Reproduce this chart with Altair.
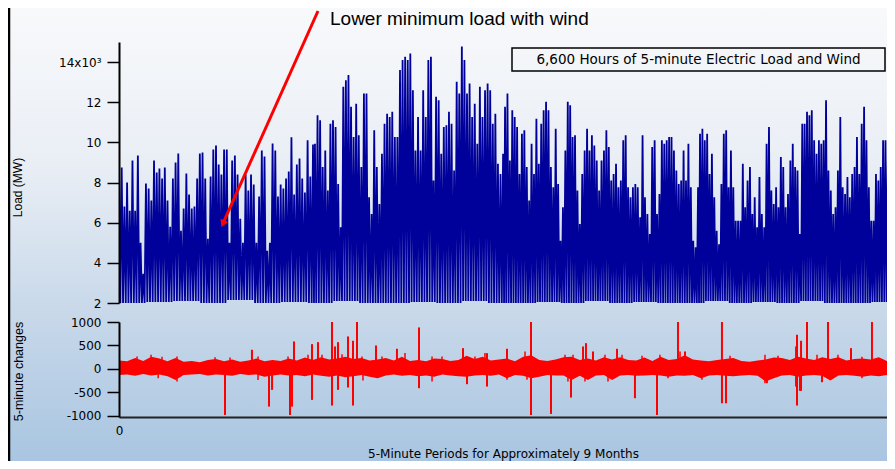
import altair as alt
import pandas as pd

# ---------------- data ----------------
TOTAL_PERIODS = 79200  # 6,600 hours x 12 five-minute periods
VISIBLE_PERIODS = 78384  # part of the record that fits in the drawing width

# daily peak load (thousand MW), four consecutive blocks of the record
PEAKS_1 = [8.75, 8.75, 6.8, 8.0, 6.6, 9.1, 6.6, 9.35, 5.0, 3.45, 7.95, 7.7, 7.1, 9.1, 8.5, 8.7, 8.2, 8.75, 7.1, 5.8,
           8.2, 9.0, 9.45, 5.6, 6.7, 8.45, 7.4, 6.7, 6.8, 8.2, 9.45, 9.5, 8.2, 5.2, 8.3, 9.65, 9.85, 8.9, 8.4, 9.65,
           9.65, 5.0, 9.1, 9.35, 8.4, 6.2, 5.0, 8.4, 7.6, 8.4, 7.9, 5.0, 7.3, 9.6, 9.3, 4.6, 5.0, 9.95, 9.6, 7.3,
           7.9, 7.7, 8.2, 8.55, 10.25, 7.4, 8.9, 9.2, 8.2, 7.5, 10.1, 8.3, 9.9]
PEAKS_2 = [9.93, 11.35, 11.1, 8.77, 9.6, 7.6, 10.93, 11.1, 10.77, 7.93, 5.77, 12.77, 13.1, 13.35, 11.77, 10.27,
           11.93, 10.35, 8.77, 12.43, 12.43, 7.27, 6.43, 10.6, 8.77, 6.93, 9.43, 10.93, 11.43, 11.27, 11.52, 10.27,
           10.27, 13.6, 14.1, 14.27, 14.1, 14.43, 12.6, 9.6, 11.27, 9.6, 12.6, 11.27, 14.1, 14.27, 8.1, 12.27, 12.1,
           9.43, 10.77, 10.85, 11.52, 10.93, 8.6, 13.02, 12.43, 14.77, 14.1, 12.43, 12.93, 11.27, 11.93, 9.93,
           12.77, 11.27, 12.6, 12.93, 12.6, 10.93, 11.43, 8.93, 8.43, 9.43]
PEAKS_3 = [11.77, 12.43, 9.1, 11.6, 11.27, 10.77, 8.43, 10.43, 10.6, 8.77, 7.1, 9.93, 8.43, 11.18, 8.93, 10.93,
           11.6, 12.02, 11.6, 8.77, 7.77, 10.68, 7.93, 5.1, 6.77, 9.6, 12.02, 11.85, 10.27, 10.35, 7.6, 5.93, 8.43,
           9.6, 10.68, 9.6, 10.35, 9.85, 9.1, 7.6, 9.1, 9.6, 10.6, 9.77, 8.1, 8.43, 8.93, 7.77, 8.1, 10.1, 10.35,
           7.77, 7.27, 7.77, 7.93, 7.77, 6.27, 10.35, 7.27, 6.43, 5.43, 9.77, 10.1, 6.43, 7.43, 10.1, 9.93, 10.1,
           10.27, 10.27, 9.6, 8.6, 7.93, 8.1, 9.6, 8.1, 9.93, 7.77, 5.1, 4.77, 7.77]
PEAKS_4 = [10.43, 10.68, 10.1, 10.43, 8.43, 9.43, 7.27, 5.6, 4.93, 7.93, 10.43, 10.6, 7.77, 9.6, 7.77, 6.1, 6.1,
           6.1, 8.93, 6.77, 8.1, 8.77, 6.43, 7.27, 5.77, 8.27, 6.43, 5.77, 9.93, 10.77, 7.6, 6.93, 7.77, 6.77, 9.27,
           8.77, 6.77, 7.43, 9.1, 9.93, 8.77, 8.6, 5.43, 10.93, 10.93, 11.52, 11.35, 11.6, 10.1, 9.43, 10.1, 9.93,
           10.1, 12.1, 8.6, 7.6, 6.43, 6.77, 8.6, 11.27, 7.77, 7.43, 8.27, 7.27, 8.43, 8.77, 10.27, 8.43, 10.93,
           11.77, 10.1, 7.77, 6.1, 6.1, 8.43, 8.1, 8.77, 10.1, 10.1, 9.1, 8.93, 8.43, 8.1]
BLOCK_START = [0, 20000, 39400, 59300]
BLOCK_END = [19800, 39200, 59100, 79200]
# night-time minimum load (thousand MW), one value per ten days
TROUGHS = [2.0, 2.05, 2.1, 2.0, 2.15, 2.0, 2.05, 2.0, 2.1, 2.0, 2.0, 2.05, 2.0, 2.1, 2.0, 2.0,
           2.05, 2.0, 2.1, 2.0, 2.05, 2.0, 2.0, 2.1, 2.0, 2.05, 2.0, 2.1, 2.0, 2.0, 2.05, 2.0]

# 5-minute changes (MW): upper / lower edge of the noise band, evenly spaced over the record
CHG_HI = [180, 160, 230, 170, 260, 220, 160, 230, 150, 170, 140, 190, 210, 160, 200, 150,
          180, 220, 160, 190, 170, 220, 180, 240, 190, 250, 200, 220, 260, 210, 230, 180,
          200, 230, 180, 260, 170, 190, 160, 220, 210, 170, 190, 280, 210, 260, 180, 200,
          220, 160, 260, 290, 190, 170, 200, 250, 260, 190, 220, 180, 250, 200, 250, 190,
          180, 240, 170, 260, 190, 210, 290, 200, 180, 160, 190, 210, 230, 170, 150, 180,
          200, 240, 230, 190, 260, 220, 190, 250, 210, 250, 180, 210, 220, 200, 250, 170, 180]
CHG_LO = [-130, -120, -150, -110, -140, -120, -160, -240, -130, -120, -110, -140, -120, -130, -150, -110,
          -130, -120, -170, -140, -120, -140, -130, -160, -120, -150, -170, -140, -180, -160, -130, -170,
          -200, -140, -120, -150, -130, -160, -140, -170, -120, -140, -160, -170, -140, -130, -150, -120,
          -200, -130, -150, -200, -170, -130, -140, -140, -240, -150, -240, -140, -130, -240, -140, -130,
          -150, -140, -130, -140, -170, -140, -150, -130, -200, -140, -130, -150, -160, -140, -130, -150,
          -270, -200, -140, -130, -170, -140, -130, -150, -250, -140, -130, -150, -170, -140, -160, -130, -140]
# isolated large 5-minute changes
SPIKE_PERIOD = [10820, 13570, 15310, 15620, 17450, 17660, 17860, 19700, 19700, 20310, 21740, 21740,
                22050, 22350, 22350, 23370, 23370, 23880, 23880, 24290, 26230, 28370, 30620, 30620,
                35110, 35520, 37560, 37560, 39600, 42050, 42050, 44090, 46130, 47360, 47660, 48380,
                50830, 52660, 54910, 57050, 57770, 61540, 61540, 61950, 66130, 69100, 69100, 69200,
                69200, 69500, 69610, 69610, 70220, 71750, 72360, 74710, 76850]
SPIKE_MW = [-985, 407, -806, -449, -985, -806, 585, 528, -663, 570, 1000, -784,
            478, 570, -449, 692, -398, 599, -784, 1000, 499, 428, 884, -413,
            442, -328, -378, 335, 428, 1000, -985, -963, -613, 478, 549, 371,
            428, -627, -985, 1000, 371, 1000, -735, -735, -306, 478, -378, 728,
            -784, -470, 599, -470, 1000, -285, 1000, 442, 1000]
# smaller changes poking out of the noise band
SMALL_PERIOD = [1840, 3270, 4390, 5920, 5920, 9800, 11330, 14190, 14190, 17250, 19290, 20720, 22760,
                24800, 24900, 26840, 29190, 31950, 31950, 32970, 36330, 37350, 39600, 41440, 41640,
                45520, 45820, 46340, 47560, 49600, 49910, 51340, 53380, 55210, 56030, 57260, 59500,
                62360, 65930, 65930, 67260, 71240, 73380, 75830, 75830, 4000]
SMALL_MW = [265, 300, 260, 265, -270, 250, 240, 265, -240, 265, 300, 300, 310,
            265, -250, 265, 340, 265, -270, 265, 265, 340, -235, 370, -235,
            300, -270, 300, -270, 300, -270, 300, 280, 300, -200, 370, -235,
            280, 300, -305, 280, 300, 300, 260, -200, -200]

LOAD_TICKS = [2000, 4000, 6000, 8000, 10000, 12000, 14000]
CHG_TICKS = [-1000, -500, 0, 500, 1000]
X_TICKS = [0]

# annotation arrow (tail -> tip) in data units
ARROW_PERIOD = [20310, 10600]
ARROW_MW = [16544, 5950]

# ---------------- tables ----------------
peak_pts = []
for vals, s, e in zip([PEAKS_1, PEAKS_2, PEAKS_3, PEAKS_4], BLOCK_START, BLOCK_END):
    n = len(vals)
    for i, v in enumerate(vals):
        peak_pts.append((s + (e - s) * i / (n - 1), v))
rows = []
for k, (p, v) in enumerate(peak_pts):
    rows.append((p, v * 1000))
    if k + 1 < len(peak_pts):
        mid = (p + peak_pts[k + 1][0]) / 2
        rows.append((mid, TROUGHS[min(k // 10, len(TROUGHS) - 1)] * 1000))
load_df = pd.DataFrame(rows, columns=["period", "mw"])

nb = min(len(CHG_HI), len(CHG_LO))
band_df = pd.DataFrame({
    "period": [TOTAL_PERIODS * i / (nb - 1) for i in range(nb)],
    "hi": CHG_HI[:nb],
    "lo": CHG_LO[:nb],
})
ns = min(len(SPIKE_PERIOD), len(SPIKE_MW))
spike_df = pd.DataFrame({"period": SPIKE_PERIOD[:ns], "mw": SPIKE_MW[:ns], "zero": [0] * ns})
nm = min(len(SMALL_PERIOD), len(SMALL_MW))
small_df = pd.DataFrame({"period": SMALL_PERIOD[:nm], "mw": SMALL_MW[:nm], "zero": [0] * nm})
arrow_df = pd.DataFrame({"period": [ARROW_PERIOD[0]], "period2": [ARROW_PERIOD[1]],
                         "mw": [ARROW_MW[0]], "mw2": [ARROW_MW[1]]})
tip_df = pd.DataFrame({"period": [ARROW_PERIOD[1]], "mw": [ARROW_MW[1]]})
one = pd.DataFrame({"a": [0]})

# ---------------- layout ----------------
W, H = 768, 375
PAD = {"left": 111, "top": 34, "right": 0, "bottom": 44}
LABEL_FONT = "DejaVu Sans"

x_scale = alt.Scale(domain=[0, VISIBLE_PERIODS], nice=False, zero=False)
load_scale = alt.Scale(domain=[2000, 15000], range=[261, 0], nice=False, zero=False)
chg_scale = alt.Scale(domain=[-1028, 1000], range=[375, 280], nice=False, zero=False)

x_axis = alt.Axis(values=X_TICKS, format="d", grid=False, tickSize=0, labelPadding=8, zindex=1,
                  labelFlush=False, labelFont=LABEL_FONT, labelFontSize=12, labelColor="black",
                  domainColor="#222222", domainWidth=2,
                  title="5-Minute Periods for Approximately 9 Months", titleFont=LABEL_FONT,
                  titleFontSize=12, titleFontWeight="normal", titleColor="black", titlePadding=12)
load_axis = alt.Axis(orient="left", values=LOAD_TICKS, grid=False, zindex=1,
                     labelExpr="datum.value == 14000 ? '14x10³' : format(datum.value / 1000, 'd')",
                     tickSize=12, tickWidth=1.5, tickColor="black", domainColor="black", domainWidth=2,
                     labelFont=LABEL_FONT, labelFontSize=12, labelColor="black", labelPadding=6,
                     title="Load (MW)", titleX=-102, titleY=145, titleAngle=270, titleAlign="center",
                     titleBaseline="middle", titleFont="Liberation Sans", titleFontSize=12,
                     titleFontWeight="normal", titleColor="black")
chg_axis = alt.Axis(orient="left", values=CHG_TICKS, grid=False, zindex=1,
                    labelExpr="'' + datum.value",
                    tickSize=12, tickWidth=1.5, tickColor="black", domainColor="black", domainWidth=2,
                    labelFont=LABEL_FONT, labelFontSize=12, labelColor="black", labelPadding=6,
                    title="5-minute changes", titleX=-101, titleY=329, titleAngle=270, titleAlign="center",
                    titleBaseline="middle", titleFont="Liberation Sans", titleFontSize=12.5,
                    titleFontWeight="normal", titleColor="black")

grad = alt.LinearGradient(gradient="linear", x1=0, x2=0, y1=0, y2=1, stops=[
    alt.GradientStop(color="#f8f9fb", offset=0),
    alt.GradientStop(color="#e9eef5", offset=0.35),
    alt.GradientStop(color="#c9d9ea", offset=0.66),
    alt.GradientStop(color="#a9c5e1", offset=1),
])

bg = alt.Chart(one).mark_rect(fill=grad, strokeWidth=0).encode(
    x=alt.value(-111), x2=alt.value(W), y=alt.value(-34), y2=alt.value(H + 44))
frame = alt.Chart(one).mark_rule(color="black", strokeWidth=2.5).encode(
    x=alt.value(-110), y=alt.value(-34), y2=alt.value(H + 44))

load = alt.Chart(load_df).mark_line(color="#00009a", strokeWidth=1.8, clip=True).encode(
    x=alt.X("period:Q", scale=x_scale, axis=x_axis),
    y=alt.Y("mw:Q", scale=load_scale, axis=load_axis),
)
band = alt.Chart(band_df).mark_area(color="#ff0000", opacity=1, clip=True).encode(
    x=alt.X("period:Q", scale=x_scale, axis=x_axis),
    y=alt.Y("lo:Q", scale=chg_scale, axis=chg_axis),
    y2="hi:Q",
)
small = alt.Chart(small_df).mark_rule(color="#ff0000", strokeWidth=1.5, clip=True).encode(
    x=alt.X("period:Q", scale=x_scale, axis=x_axis),
    y=alt.Y("zero:Q", scale=chg_scale, axis=None),
    y2="mw:Q",
)
spikes = alt.Chart(spike_df).mark_rule(color="#ff0000", strokeWidth=2, clip=True).encode(
    x=alt.X("period:Q", scale=x_scale, axis=x_axis),
    y=alt.Y("zero:Q", scale=chg_scale, axis=None),
    y2="mw:Q",
)
arrow = alt.Chart(arrow_df).mark_rule(color="#ff0000", strokeWidth=3).encode(
    x=alt.X("period:Q", scale=x_scale, axis=x_axis), x2="period2:Q",
    y=alt.Y("mw:Q", scale=load_scale, axis=None), y2="mw2:Q",
)
tip = alt.Chart(tip_df).mark_point(shape="triangle-up", filled=True, color="#ff0000", opacity=1,
                                   size=70, angle=204).encode(
    x=alt.X("period:Q", scale=x_scale, axis=x_axis),
    y=alt.Y("mw:Q", scale=load_scale, axis=None),
)
note = alt.Chart(one).mark_text(text="Lower minimum load with wind", align="left", baseline="middle",
                                font="Liberation Sans", fontSize=19, color="black").encode(
    x=alt.value(211), y=alt.value(-23))
box = alt.Chart(one).mark_rect(fillOpacity=0, stroke="black", strokeWidth=1.5).encode(
    x=alt.value(393), x2=alt.value(766), y=alt.value(6), y2=alt.value(29))
box_text = alt.Chart(one).mark_text(text="6,600 Hours of 5-minute Electric Load and Wind", align="center",
                                    baseline="middle", font=LABEL_FONT, fontSize=13.5, color="black").encode(
    x=alt.value(579.5), y=alt.value(18))

chart = alt.layer(bg, frame, load, band, small, spikes, arrow, tip, note, box, box_text).resolve_scale(
    y="independent").resolve_axis(y="independent").properties(
    width=W, height=H, padding=PAD, autosize=alt.AutoSizeParams(type="none"),
).configure_view(stroke=None)

chart.save("out.html", embed_options={"renderer": "svg", "actions": False})
